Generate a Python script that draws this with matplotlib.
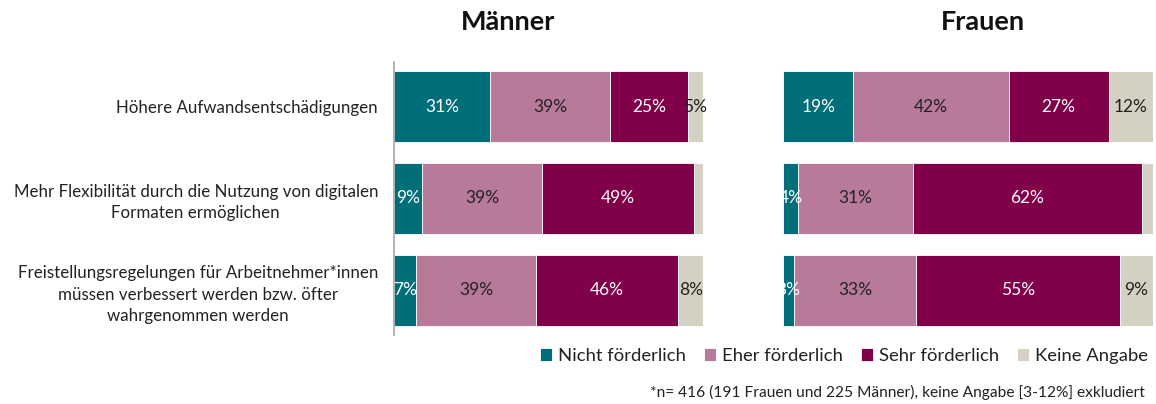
import numpy as np
import matplotlib
matplotlib.use('Agg')
import matplotlib.pyplot as plt

plt.rcParams['font.family'] = ['Lato', 'DejaVu Sans']

# Survey items and answer categories
items = [
    'Höhere Aufwandsentschädigungen',
    'Mehr Flexibilität durch die Nutzung von digitalen\nFormaten ermöglichen',
    'Freistellungsregelungen für Arbeitnehmer*innen\nmüssen verbessert werden bzw. öfter\nwahrgenommen werden',
]
categories = ['Nicht förderlich', 'Eher förderlich', 'Sehr förderlich', 'Keine Angabe']

# Shares in percent, one list per category (rows follow items)
maenner_nicht = [31, 9, 7]
maenner_eher = [39, 39, 39]
maenner_sehr = [25, 49, 46]
maenner_keine = [5, 3, 8]

frauen_nicht = [19, 4, 3]
frauen_eher = [42, 31, 33]
frauen_sehr = [27, 62, 55]
frauen_keine = [12, 3, 9]

colors = ['#006e78', '#b87a9a', '#80004a', '#d4d0c2']
label_colors = ['white', '#222222', 'white', '#222222']

fig = plt.figure(figsize=(11.56, 4.04), dpi=100)
W, H = 1156, 404

ax_m = fig.add_axes([394 / W, 1 - 335 / H, 309 / W, 273 / H])
ax_f = fig.add_axes([783 / W, 1 - 335 / H, 370 / W, 273 / H])

y = np.arange(len(items))


def draw_panel(ax, series, show_labels):
    left = np.zeros(len(items))
    handles = []
    for i, vals in enumerate(series):
        vals = np.array(vals, dtype=float)
        bars = ax.barh(y, vals, left=left, height=0.77, color=colors[i],
                       edgecolor='white', linewidth=0.6, label=categories[i])
        handles.append(bars)
        for yy, l, v in zip(y, left, vals):
            # the smallest "Keine Angabe" shares stay unlabelled
            if i == 3 and v < 4:
                continue
            ax.text(l + v / 2, yy, f'{v:.0f}%', ha='center', va='center',
                    color=label_colors[i], fontsize=12.5)
        left += vals
    ax.set_xlim(0, 100)
    ax.set_ylim(2.485, -0.485)
    ax.set_xticks([])
    for s in ['top', 'right', 'bottom']:
        ax.spines[s].set_visible(False)
    if show_labels:
        ax.spines['left'].set_color('#a6a6a6')
        ax.spines['left'].set_linewidth(1.2)
        ax.set_yticks(y, items)
        ax.tick_params(axis='y', length=0, pad=11.5, labelsize=12.2, labelcolor='#222222')
        for lbl in ax.get_yticklabels():
            lbl.set_multialignment('center')
            lbl.set_linespacing(1.4)
    else:
        ax.spines['left'].set_visible(False)
        ax.set_yticks([])
    return handles


handles = draw_panel(ax_m, [maenner_nicht, maenner_eher, maenner_sehr, maenner_keine], True)
draw_panel(ax_f, [frauen_nicht, frauen_eher, frauen_sehr, frauen_keine], False)

fig.text(508 / W, 1 - 22 / H, 'Männer', ha='center', va='center',
         fontsize=19.5, fontweight='bold', color='#111111')
fig.text(983 / W, 1 - 22 / H, 'Frauen', ha='center', va='center',
         fontsize=19.5, fontweight='bold', color='#111111')

fig.legend(handles=handles, labels=categories, ncol=4, frameon=False,
           loc='center', bbox_to_anchor=(844 / W, 1 - 356 / H),
           fontsize=13.3, handlelength=0.65, handleheight=0.65,
           handletextpad=0.3, columnspacing=1.0, labelcolor='#222222')

fig.text(1145 / W, 1 - 392 / H,
         '*n= 416 (191 Frauen und 225 Männer), keine Angabe [3-12%] exkludiert',
         ha='right', va='center', fontsize=11.2, color='#222222')

fig.savefig('out.png', dpi=100)
